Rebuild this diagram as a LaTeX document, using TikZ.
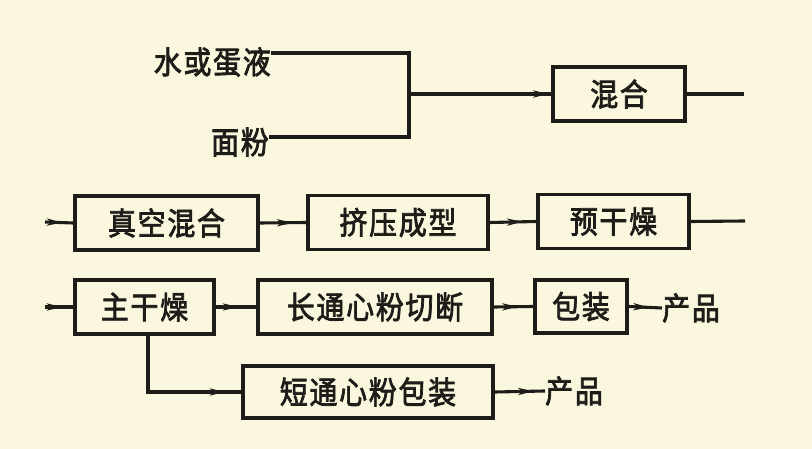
\documentclass[tikz,border=0pt]{standalone}
\usepackage{fontspec}
\newfontfamily\cjk[LetterSpace=6,FakeBold=2.5]{Noto Sans CJK SC}
\usetikzlibrary{arrows.meta,decorations.markings}
\definecolor{bgcol}{RGB}{250,247,222}
\definecolor{ink}{RGB}{30,28,24}
\newcommand{\tall}[1]{\scalebox{1}[1.12]{#1}}
\tikzset{
  box/.style={draw=ink,line width=3.4pt,minimum height=54pt,inner sep=0pt,font=\cjk\fontsize{28}{28}\selectfont,text=ink},
  lbl/.style={inner sep=0pt,font=\cjk\fontsize{28}{28}\selectfont,text=ink},
  wire/.style={draw=ink,line width=3.1pt},
  arr/.style={postaction={decorate},decoration={markings,mark=at position #1 with {\arrow{Stealth[length=15pt,width=7pt,inset=4pt]}}}}
}
\begin{document}
\begin{tikzpicture}[x=1pt,y=-1pt]
\fill[bgcol] (0,0) rectangle (812,449);
\useasboundingbox (0,0) rectangle (812,449);
% top
\node[lbl,anchor=east] (w) at (271,62) {\tall{水或蛋液}};
\node[lbl,anchor=east] (f) at (269,142) {\tall{面粉}};
\coordinate (J) at (409,94);
\node[box,minimum width=132pt] (mix) at (619,94) {\tall{混合}};
\coordinate (mixout) at (744,94);
\draw[wire] ([yshift=9pt]w.east) -| (J);
\draw[wire] ([yshift=5pt]f.east) -| (J);
\draw[wire,arr=0.98] (J) -- (mix.west);
\draw[wire] (mix.east) -- (mixout);
% row 2
\coordinate (in2) at (45,222);
\node[box,minimum width=183pt] (b1) at (166.5,223) {\tall{真空混合}};
\node[box,minimum width=180pt] (b2) at (398,222.5) {\tall{挤压成型}};
\node[box,minimum width=151pt] (b3) at (613.5,221.5) {\tall{预干燥}};
\coordinate (out2) at (745,221);
\draw[wire,arr=0.6] (in2) -- (b1.west);
\draw[wire,arr=0.7] (b1.east) -- (b2.west);
\draw[wire,arr=0.7] (b2.east) -- (b3.west);
\draw[wire] (b3.east) -- (out2);
% row 3
\coordinate (in3) at (45,307);
\node[box,minimum width=139pt] (c1) at (144.5,307) {\tall{主干燥}};
\node[box,minimum width=234pt] (c2) at (375,307) {\tall{长通心粉切断}};
\node[box,minimum width=92pt,minimum height=53pt] (c3) at (581,306.5) {\tall{包装}};
\node[lbl,anchor=west] (p1) at (662,308) {\tall{产品}};
\draw[wire,arr=0.6] (in3) -- (c1.west);
\draw[wire,arr=0.55] (c1.east) -- (c2.west);
\draw[wire,arr=0.6] (c2.east) -- (c3.west);
\draw[wire,arr=0.6] (c3.east) -- (p1.west);
% row 4
\node[box,minimum width=250pt,minimum height=52pt] (d1) at (368,392) {\tall{短通心粉包装}};
\node[lbl,anchor=west] (p2) at (545,391) {\tall{产品}};
\draw[wire,arr=0.89] ([xshift=3.5pt]c1.south) |- (d1.west);
\draw[wire,arr=0.77] (d1.east) -- (p2.west);
\end{tikzpicture}
\end{document}
